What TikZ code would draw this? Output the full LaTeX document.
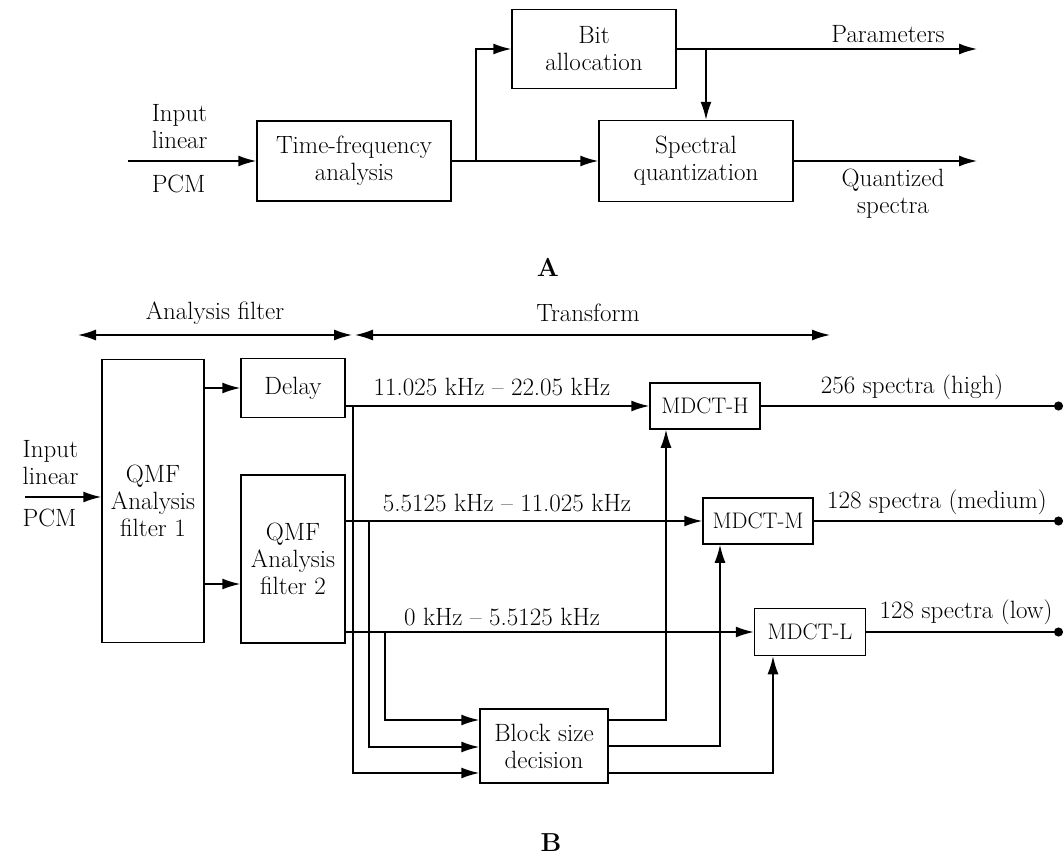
\documentclass[tikz,border=0pt]{standalone}
\usetikzlibrary{arrows.meta}
\begin{document}
\begin{tikzpicture}[x=1pt, y=-1pt, line width=1.5pt,
    font=\fontsize{25}{27}\selectfont,
    >={Latex[length=18pt,width=11pt]},
    block/.style={draw, align=center, inner sep=0pt},
    mdct/.style={block, font=\fontsize{22.5}{27}\selectfont},
    lbl/.style={inner sep=0pt, align=center},
    outdot/.style={-{Circle[length=9pt]}}]
  \useasboundingbox (0,0) rectangle (1063,860);
  % --- part A ---
  \node[block, minimum width=194pt, minimum height=80pt] (tfa) at (354,161) {Time-frequency\\analysis};
  \node[block, minimum width=164pt, minimum height=79pt] (bit) at (594,49) {Bit\\allocation};
  \node[block, minimum width=194pt, minimum height=81pt] (sq)  at (696,161) {Spectral\\quantization};
  \coordinate (inA)  at (128,161);
  \coordinate (br1)  at (476,161);
  \coordinate (br2)  at (706,49);
  \coordinate (outA) at (977,0);
  \draw[->] (inA) -- (tfa.west);
  \draw[->] (tfa.east) -- (sq.west);
  \draw[->] (br1) |- (bit.west);
  \draw[->] (bit.east) -- (bit.east -| outA);
  \draw[->] (br2) -- (br2 |- sq.north);
  \draw[->] (sq.east) -- (sq.east -| outA);
  % labels A
  \node[lbl, align=left, anchor=west] (inAtxt) at (151,127) {Input\\linear};
  \node[lbl, anchor=west] (pcmA) at (151,184) {PCM};
  \node[lbl] (parTxt) at (888,34) {Parameters};
  \node[lbl] (qsTxt) at (893,194) {Quantized\\spectra};
  \node[lbl, font=\fontsize{26}{28}\selectfont\bfseries] (capA) at (548,267) {A};
  % --- part B ---
  \coordinate (afL) at (78,335);
  \coordinate (afR) at (352,335);
  \coordinate (trL) at (355,335);
  \coordinate (trR) at (830,335);
  \draw[<->] (afL) -- (afR);
  \draw[<->] (trL) -- (trR);
  \node[lbl] (afTxt) at (215,313) {Analysis filter};
  \node[lbl] (trTxt) at (588,313) {Transform};
  \node[block, minimum width=102pt, minimum height=283pt] (qmfa) at (153,501) {QMF\\Analysis\\filter 1};
  \node[block, minimum width=104pt, minimum height=59pt]  (delay) at (293,388) {Delay};
  \node[block, minimum width=104pt, minimum height=168pt] (qmfb) at (293,559) {QMF\\Analysis\\filter 2};
  \node[mdct, minimum width=110pt, minimum height=46pt]  (mdh) at (705,406) {MDCT-H};
  \node[mdct, minimum width=110pt, minimum height=46pt]  (mdm) at (758,521) {MDCT-M};
  \node[mdct, minimum width=111pt, minimum height=47pt]  (mdl) at (810,632) {MDCT-L};
  \node[block, minimum width=128pt, minimum height=74pt]  (bsd) at (544,746) {Block size\\decision};
  \coordinate (inB)  at (25,497);
  \coordinate (outB) at (1063,0);
  \draw[->] (inB) -- (inB -| qmfa.west);
  \draw[->] (qmfa.east |- delay.west) -- (delay.west);
  \draw[->] (qmfa.east |- 0,584) -- (qmfb.west |- 0,584);
  % bands
  \draw[->] (delay.east |- mdh.west) -- (mdh.west);
  \draw[->] (qmfb.east |- mdm.west) -- (mdm.west);
  \draw[->] (qmfb.east |- mdl.west) -- (mdl.west);
  % block size decision
  \coordinate (bh) at (353,406);
  \coordinate (bm) at (369,521);
  \coordinate (bl) at (385,632);
  \draw[->] (bh) |- (bsd.west |- 0,773);
  \draw[->] (bm) |- (bsd.west |- 0,747);
  \draw[->] (bl) |- (bsd.west |- 0,720);
  \draw[->] (bsd.east |- 0,720) -| (mdh.south -| 666,0);
  \draw[->] (bsd.east |- 0,746) -| (mdm.south -| 720,0);
  \draw[->] (bsd.east |- 0,773) -| (mdl.south -| 773,0);
  % outputs
  \draw[outdot] (mdh.east) -- (mdh.east -| outB);
  \draw[outdot] (mdm.east) -- (mdm.east -| outB);
  \draw[outdot] (mdl.east) -- (mdl.east -| outB);
  % labels B
  \node[lbl, align=left, anchor=west] (inBtxt) at (22,463) {Input\\linear};
  \node[lbl, anchor=west] (pcmB) at (22,518) {PCM};
  \node[lbl] (hTxt) at (492,387) {11.025 kHz -- 22.05 kHz};
  \node[lbl] (mTxt) at (507,503) {5.5125 kHz -- 11.025 kHz};
  \node[lbl] (lTxt) at (502,617) {0 kHz -- 5.5125 kHz};
  \node[lbl] (ohTxt) at (912,387) {256 spectra (high)};
  \node[lbl] (omTxt) at (937,502) {128 spectra (medium)};
  \node[lbl] (olTxt) at (966,612) {128 spectra (low)};
  \node[lbl, font=\fontsize{26}{28}\selectfont\bfseries] (capB) at (551,843) {B};
\end{tikzpicture}
\end{document}
